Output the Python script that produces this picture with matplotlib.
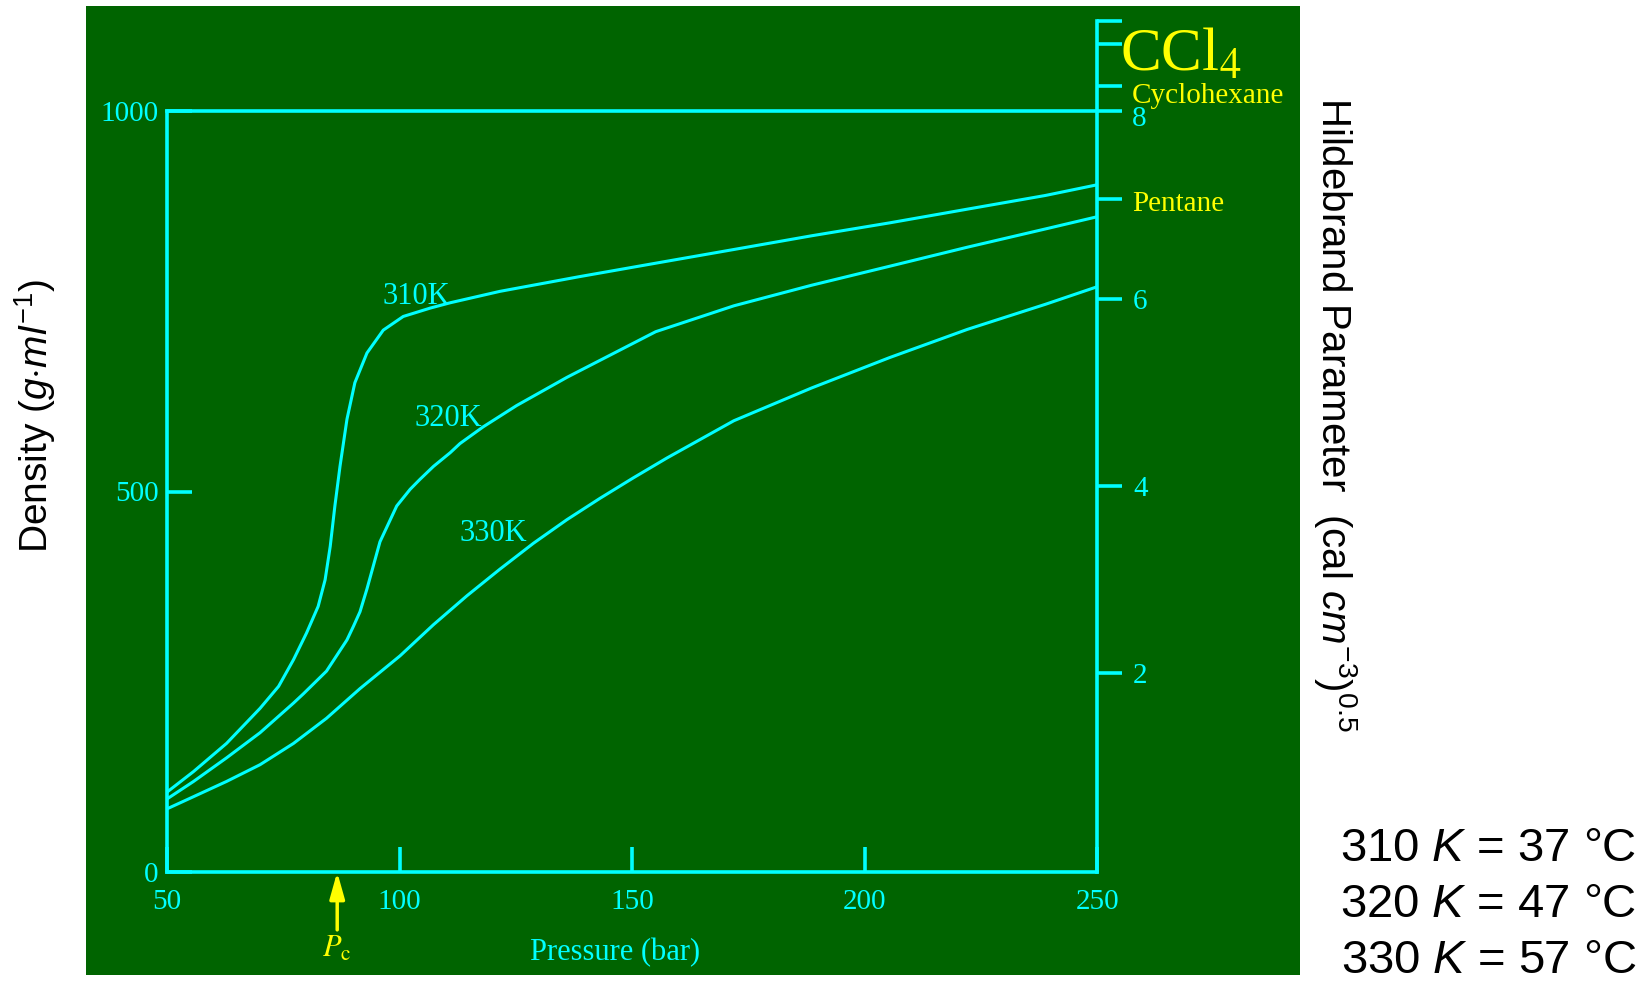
import matplotlib.pyplot as plt
from matplotlib.patches import Rectangle

plt.rcParams['font.family'] = ['Liberation Serif', 'DejaVu Serif']
plt.rcParams['mathtext.fontset'] = 'custom'
plt.rcParams['mathtext.rm'] = 'Liberation Sans'
plt.rcParams['mathtext.it'] = 'Liberation Sans:italic'
plt.rcParams['mathtext.bf'] = 'Liberation Sans:bold'

cyan = '#00ffff'
yellow = '#ffff00'
green = '#006400'
sans = ['Liberation Sans', 'DejaVu Sans']

# CO2 isotherms: pressure (bar) -> density
p310 = [50, 55.7, 62.8, 70, 74, 77.2, 80, 82.5, 84, 85.1, 86.1, 87.2, 88.7, 90.4,
        93, 96.5, 100.8, 106.6, 110.9, 121.6, 138.4, 155.1, 171.9, 188.6, 205.4,
        222.1, 238.9, 250]
d310 = [105, 132, 169, 215, 244, 279, 314, 349, 384, 428, 481, 533, 595, 643,
        682, 712, 730, 741, 748, 763, 782, 800, 818, 836, 853,
        871, 889, 903]

p320 = [50, 55.7, 62.8, 70, 77.2, 79.3, 84.3, 88.7, 90.1, 91.5, 93, 95.8, 99.4,
        102.3, 104.4, 107.3, 110.9, 113, 118, 121.6, 125.2, 136, 155.1, 171.9,
        188.6, 205.4, 222.1, 238.9, 250]
d320 = [96, 119, 150, 183, 222, 234, 264, 305, 323, 342, 372, 434, 481,
        503, 516, 533, 551, 563, 585, 599, 613, 650, 710, 744,
        771, 796, 821, 845, 861]

p330 = [50, 55.7, 62.8, 70, 77.2, 84.3, 91.5, 100.1, 107.3, 114.5, 121.6, 128.8,
        136, 143.1, 150.3, 157.5, 171.9, 188.6, 205.4, 222.1, 238.9, 250]
d330 = [83, 99, 119, 141, 169, 202, 241, 284, 325, 363, 398, 432,
        463, 491, 518, 544, 593, 636, 676, 713, 746, 769]

curve_names = ['310K', '320K', '330K']
curve_label_xy = [(96.4, 746), (103.3, 586), (113.0, 435)]

x_ticks = [50, 100, 150, 200, 250]
y_ticks = [0, 500, 1000]
hild_ticks = [2, 4, 6, 8]
solvent_delta = [8.72, 8.27, 7.06]   # CCl4, cyclohexane, pentane
p_crit = 86.6

temps_K = [310, 320, 330]
temps_C = [37, 47, 57]

fig = plt.figure(figsize=(16.47, 9.83), dpi=100)
fig.add_artist(Rectangle((0.0522, 0.0081), 0.7371, 0.9858, transform=fig.transFigure,
                         facecolor=green, edgecolor='none', zorder=-5))

ax = fig.add_axes([0.1014, 0.1129, 0.5647, 0.7742])
ax.set_facecolor('none')
ax.set_xlim(50, 250)
ax.set_ylim(0, 1000)
for s in ['left', 'bottom', 'top']:
    ax.spines[s].set_color(cyan)
    ax.spines[s].set_linewidth(2.6)
ax.spines['right'].set_visible(False)
ax.set_xticks(x_ticks)
ax.set_yticks(y_ticks)
ax.tick_params(direction='in', colors=cyan, length=18, width=2.6, labelsize=21)
ax.tick_params(axis='x', pad=12)
ax.tick_params(axis='y', pad=6)

for p, d in [(p310, d310), (p320, d320), (p330, d330)]:
    ax.plot(p, d, color=cyan, lw=2.2, solid_joinstyle='round')
for name, (x, y) in zip(curve_names, curve_label_xy):
    ax.text(x, y, name, color=cyan, fontsize=22, ha='left', va='baseline')

ax.set_xlabel('Pressure (bar)', color=cyan, fontsize=22)
ax.xaxis.set_label_coords(0.482, -0.087)

# critical pressure arrow
ax.annotate('', xy=(p_crit, 0), xycoords=('data', 'axes fraction'),
            xytext=(p_crit, -0.076), textcoords=('data', 'axes fraction'),
            arrowprops=dict(arrowstyle='-|>,head_length=1.6,head_width=0.45',
                            color=yellow, lw=2.5, shrinkA=0, shrinkB=0),
            annotation_clip=False)
ax.text(p_crit, -0.102, r'$P_{\mathrm{c}}$', transform=ax.get_xaxis_transform(),
        ha='center', va='center', color=yellow, fontsize=22, math_fontfamily='stix')

# Hildebrand parameter axis on the right
ax2 = fig.add_axes([0.1014, 0.1129, 0.5647, 0.8657])
ax2.set_facecolor('none')
ax2.set_xlim(50, 250)
ax2.set_ylim(-0.1245, 8.964)
for s in ['left', 'bottom', 'top']:
    ax2.spines[s].set_visible(False)
ax2.spines['right'].set_color(cyan)
ax2.spines['right'].set_linewidth(2.6)
ax2.set_xticks([])
ax2.yaxis.tick_right()
ax2.set_yticks(hild_ticks + solvent_delta + [8.964])
ax2.set_yticklabels([str(t) for t in hild_ticks[:-1]] + [''] * 5)
ax2.tick_params(axis='y', direction='out', colors=cyan, length=18, width=2.6,
                labelsize=21, pad=8)

tr = ax2.get_yaxis_transform()
# the "8" sits a little below its tick, under "Cyclohexane"
ax2.text(1.037, 7.92, str(hild_ticks[-1]), transform=tr, color=cyan, fontsize=21,
         ha='left', va='center')
ax2.text(1.0247, 8.43, 'CCl$_4$', transform=tr, color=yellow, fontsize=44,
         ha='left', va='baseline', math_fontfamily='stix')
ax2.text(1.0376, 8.09, 'Cyclohexane', transform=tr, color=yellow, fontsize=21,
         ha='left', va='baseline')
ax2.text(1.0376, 6.94, 'Pentane', transform=tr, color=yellow, fontsize=21,
         ha='left', va='baseline')

fig.text(35 / 1647, 1 - 416 / 983, r'Density ($g{\cdot}ml^{-1}$)', rotation=90,
         ha='center', va='center', fontsize=28, family=sans, color='black')
fig.text(1336 / 1647, 1 - 414 / 983, r'Hildebrand Parameter  (cal $cm^{-3}$)$^{0.5}$',
         rotation=270, ha='center', va='center', fontsize=29, family=sans, color='black')

for i, (k, c) in enumerate(zip(temps_K, temps_C)):
    fig.text(1636 / 1647, 1 - (849 + 56 * i) / 983, rf'{k} $K$ = {c} °C',
             ha='right', va='center', fontsize=34, family=sans, color='black')

fig.savefig('out.png', dpi=100)
